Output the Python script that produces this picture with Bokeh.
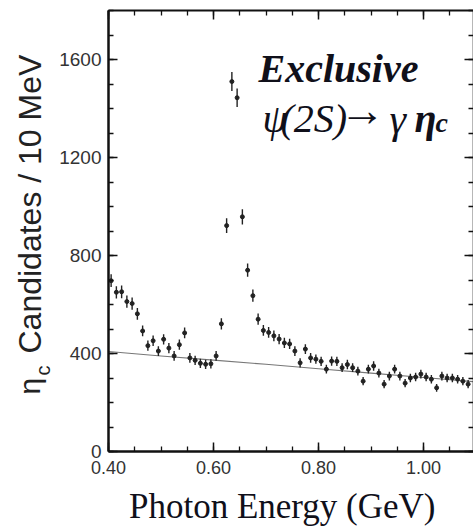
import math
from bokeh.plotting import figure
from bokeh.layouts import row
from bokeh.models import (LinearAxis, FixedTicker, NumeralTickFormatter, Label,
                          ColumnDataSource, Range1d, CustomJSTickFormatter)
from bokeh.embed import file_html
from bokeh.resources import INLINE

# ---------------- data ----------------
energy = [0.405, 0.415, 0.425, 0.435, 0.445, 0.455, 0.465, 0.475, 0.485, 0.495,
          0.505, 0.515, 0.525, 0.535, 0.545, 0.555, 0.565, 0.575, 0.585, 0.595,
          0.605, 0.615, 0.625, 0.635, 0.645, 0.655, 0.665, 0.675, 0.685, 0.695,
          0.705, 0.715, 0.725, 0.735, 0.745, 0.755, 0.765, 0.775, 0.785, 0.795,
          0.805, 0.815, 0.825, 0.835, 0.845, 0.855, 0.865, 0.875, 0.885, 0.895,
          0.905, 0.915, 0.925, 0.935, 0.945, 0.955, 0.965, 0.975, 0.985, 0.995,
          1.005, 1.015, 1.025, 1.035, 1.045, 1.055, 1.065, 1.075, 1.085]
counts = [697, 650, 652, 612, 604, 562, 492, 432, 452, 410,
          458, 422, 390, 436, 484, 382, 372, 360, 356, 358,
          390, 521, 922, 1510, 1444, 958, 740, 636, 540, 494,
          486, 472, 459, 443, 439, 410, 362, 418, 382, 377,
          368, 336, 369, 368, 342, 355, 342, 328, 287, 336,
          349, 320, 275, 308, 336, 308, 279, 300, 304, 316,
          304, 295, 260, 308, 300, 300, 295, 287, 275]
errors = [26, 25, 26, 25, 25, 24, 22, 21, 21, 20,
          21, 21, 20, 21, 22, 20, 19, 19, 19, 19,
          20, 23, 30, 39, 38, 31, 27, 25, 23, 22,
          22, 22, 21, 21, 21, 20, 19, 20, 20, 19,
          19, 18, 19, 19, 18, 19, 18, 18, 17, 18,
          19, 18, 17, 18, 18, 18, 17, 17, 17, 18,
          17, 17, 16, 18, 17, 17, 17, 17, 17]
bg_energy = [0.40, 0.50, 0.60, 0.70, 0.80, 0.90, 1.00, 1.10]
bg_counts = [408, 390, 373, 356, 338, 320, 302, 284]

x_ticks = [0.40, 0.60, 0.80, 1.00]
y_ticks = [0, 400, 800, 1200, 1600]

# ---------------- geometry ----------------
W, H = 473, 530
LW = 56                      # width of the strip that holds the y title
L, R, T, B = 108, 473, 10, 451
X0 = 0.40
X1 = X0 + (R - L) / 525.0
Y0, Y1 = 0, 1800

def dx(px):
    return X0 + (px - L) / (R - L) * (X1 - X0)

def dy(py):
    return Y0 + (B - py) / (B - T) * (Y1 - Y0)

ink = "#10101a"

# ---------------- strip with the rotated y title ----------------
# its frame spans the same rows as the main frame; data y = H - pixel row
side = figure(width=LW, height=H, output_backend="svg", toolbar_location=None,
              x_range=Range1d(0, LW), y_range=Range1d(H - B, H - T),
              x_axis_location=None, y_axis_location=None,
              min_border_left=0, min_border_right=0,
              min_border_top=T, min_border_bottom=H - B)
side.outline_line_color = None
side.grid.visible = False
side.background_fill_color = "white"
side.border_fill_color = "white"

def slab(text, px, py, size):
    side.add_layout(Label(x=px, y=H - py, text=text,
                          text_font="Liberation Sans", text_font_size=size,
                          text_color="#222", angle=math.pi / 2,
                          text_align="left", text_baseline="alphabetic"))

slab("η", 29, 394, "30px")
slab("c", 42, 375, "20px")
slab("Candidates / 10 MeV", 29, 353, "32px")

# ---------------- main plot ----------------
p = figure(width=W - LW, height=H, output_backend="svg", toolbar_location=None,
           x_range=Range1d(X0, X1), y_range=Range1d(Y0, Y1),
           x_axis_location=None, y_axis_location=None,
           min_border_left=L - LW, min_border_right=W - R,
           min_border_top=T, min_border_bottom=H - B)
p.outline_line_color = None
p.grid.visible = False
p.background_fill_color = "white"
p.border_fill_color = "white"

xt = FixedTicker(ticks=x_ticks, minor_ticks=[0.40 + 0.05 * i for i in range(15)])
yt = FixedTicker(ticks=y_ticks, minor_ticks=[100 * i for i in range(19)])
blank = CustomJSTickFormatter(code="return ''")

def style(ax, lw):
    ax.axis_line_color = "#111"
    ax.axis_line_width = lw
    ax.major_tick_in = 9
    ax.major_tick_out = 0
    ax.minor_tick_in = 5
    ax.minor_tick_out = 0
    ax.major_tick_line_width = 1.5
    ax.minor_tick_line_width = 1.3
    ax.major_tick_line_color = "#111"
    ax.minor_tick_line_color = "#111"

bottom = LinearAxis(ticker=xt, formatter=NumeralTickFormatter(format="0.00"))
style(bottom, 2.5)
bottom.major_label_text_font = "Liberation Sans"
bottom.major_label_text_font_size = "18px"
bottom.major_label_text_color = "#333"
bottom.major_label_standoff = 9
bottom.axis_label = "Photon Energy (GeV)\u00a0\u00a0"
bottom.axis_label_text_font = "Liberation Serif"
bottom.axis_label_text_font_size = "35px"
bottom.axis_label_text_font_style = "normal"
bottom.axis_label_text_color = ink
bottom.axis_label_standoff = 10
p.add_layout(bottom, "below")

left = LinearAxis(ticker=yt)
style(left, 2.5)
left.major_label_text_font = "Liberation Sans"
left.major_label_text_font_size = "19px"
left.major_label_text_color = "#333"
left.major_label_standoff = 7
p.add_layout(left, "left")

top = LinearAxis(ticker=xt, formatter=blank)
style(top, 2.0)
top.major_label_standoff = 0
p.add_layout(top, "above")

right = LinearAxis(ticker=yt, formatter=blank)
style(right, 1.6)
right.major_label_standoff = 0
p.add_layout(right, "right")

# ---------------- marks ----------------
src = ColumnDataSource(dict(
    x=energy, y=counts,
    lo=[c - e for c, e in zip(counts, errors)],
    hi=[c + e for c, e in zip(counts, errors)],
))
p.line(bg_energy, bg_counts, line_color="#777", line_width=1.1)
p.segment(x0="x", y0="lo", x1="x", y1="hi", source=src,
          line_color="#222", line_width=1.4)
p.scatter(x="x", y="y", source=src, size=4, marker="circle",
          fill_color="#222", line_color="#222")

# ---------------- annotation ----------------
def lab(text, px, py, size, style="normal"):
    p.add_layout(Label(x=dx(px), y=dy(py), text=text, text_font="Liberation Serif",
                       text_font_size=size, text_font_style=style,
                       text_color=ink, text_align="left",
                       text_baseline="alphabetic"))

lab("Exclusive", 258, 68, "40px", "bold italic")
lab("ψ", 262, 118, "40px", "italic")
lab("(2S)", 280, 118, "40px", "italic")
lab("→", 339, 110, "46px")
lab("γ", 389, 118, "42px", "italic")
lab("η", 414, 118, "40px", "bold italic")
lab("c", 435, 122, "28px", "bold italic")

open("out.html", "w").write(file_html(row(side, p), INLINE))
